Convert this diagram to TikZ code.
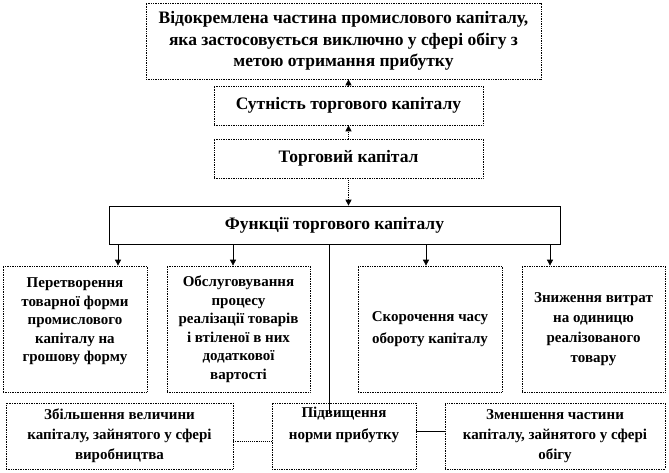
\documentclass[tikz,border=0pt]{standalone}
\usepackage{fontspec}
\setmainfont{Liberation Serif}
\usetikzlibrary{arrows.meta, positioning, calc}

\begin{document}
\begin{tikzpicture}[x=1pt, y=-1pt, >={Triangle[length=6pt, width=6pt]},
  every node/.style={font=\bfseries, align=center, inner sep=1pt},
  dotbox/.style={draw, densely dotted, line width=0.7pt},
  linebox/.style={draw, line width=0.7pt},
  link/.style={line width=0.7pt},
  dotlink/.style={line width=0.9pt, densely dotted}]
\useasboundingbox (0,0) rectangle (669,473);
% upper chain
\node[dotbox, minimum width=395pt, minimum height=76pt, font=\bfseries\fontsize{17.5}{21.5}\selectfont] (part) at (343.5,41) {Відокремлена частина промислового капіталу,\\ яка застосовується виключно у сфері обігу з\\ метою отримання прибутку};
\node[dotbox, minimum width=269pt, minimum height=39pt, font=\bfseries\fontsize{17.5}{21}\selectfont] (essence) at (348.5,105.5) {Сутність торгового капіталу};
\node[dotbox, minimum width=269pt, minimum height=39pt, font=\bfseries\fontsize{17.5}{21}\selectfont] (trade) at (348.5,158.5) {Торговий капітал};
\node[linebox, minimum width=451pt, minimum height=38pt, font=\bfseries\fontsize{17.5}{21}\selectfont] (func) at (334.5,225) {Функції торгового капіталу};
% functions
\node[dotbox, minimum width=144pt, minimum height=126pt, font=\bfseries\fontsize{15}{18.5}\selectfont] (convert) at (75,329) {Перетворення\\ товарної форми\\ промислового\\ капіталу на\\ грошову форму\\ ~};
\node[dotbox, minimum width=143pt, minimum height=126pt, font=\bfseries\fontsize{15}{18.5}\selectfont] (service) at (238.5,329) {Обслуговування\\ процесу\\ реалізації товарів\\ і втіленої в них\\ додаткової\\ вартості};
\node[dotbox, minimum width=144pt, minimum height=126pt, font=\bfseries\fontsize{15}{22}\selectfont] (turnover) at (430,329) {Скорочення часу\\ обороту капіталу};
\node[dotbox, minimum width=143pt, minimum height=126pt, font=\bfseries\fontsize{15}{20}\selectfont] (costs) at (593.5,329) {Зниження витрат\\ на одиницю\\ реалізованого\\ товару};
% profit rate
\node[dotbox, minimum width=227pt, minimum height=66pt, font=\bfseries\fontsize{15}{20}\selectfont] (increase) at (119.5,436) {Збільшення величини\\ капіталу, зайнятого у сфері\\ виробництва};
\node[dotbox, minimum width=144pt, minimum height=66pt, font=\bfseries\fontsize{15}{22}\selectfont] (rate) at (344,436) {Підвищення\\ норми прибутку\\[4pt]};
\node[dotbox, minimum width=220pt, minimum height=66pt, font=\bfseries\fontsize{15}{20}\selectfont] (decrease) at (555,436) {Зменшення частини\\ капіталу, зайнятого у сфері\\ обігу};
% connectors
\draw[->, dotlink] (essence.north) -- (essence.north |- part.south);
\draw[->, dotlink] (trade.north) -- (trade.north |- essence.south);
\draw[->, dotlink] (trade.south) -- (trade.south |- func.north);
\draw[->, link] ([xshift=43pt]convert.north |- func.south) -- ([xshift=43pt]convert.north);
\draw[->, link] ([xshift=-5.5pt]service.north |- func.south) -- ([xshift=-5.5pt]service.north);
\draw[->, link] ([xshift=-4pt]turnover.north |- func.south) -- ([xshift=-4pt]turnover.north);
\draw[->, link] ([xshift=-43.5pt]costs.north |- func.south) -- ([xshift=-43.5pt]costs.north);
\coordinate (rateend) at ([xshift=-15pt, yshift=-10pt]rate.north);
\draw[link] (rateend |- func.south) -- (rateend);
\draw[dotlink] ([yshift=-5pt]rate.west) -- ([yshift=-5pt]rate.west -| increase.east);
\draw[link] ([yshift=5pt]rate.east) -- ([yshift=5pt]rate.east -| decrease.west);
\end{tikzpicture}
\end{document}
